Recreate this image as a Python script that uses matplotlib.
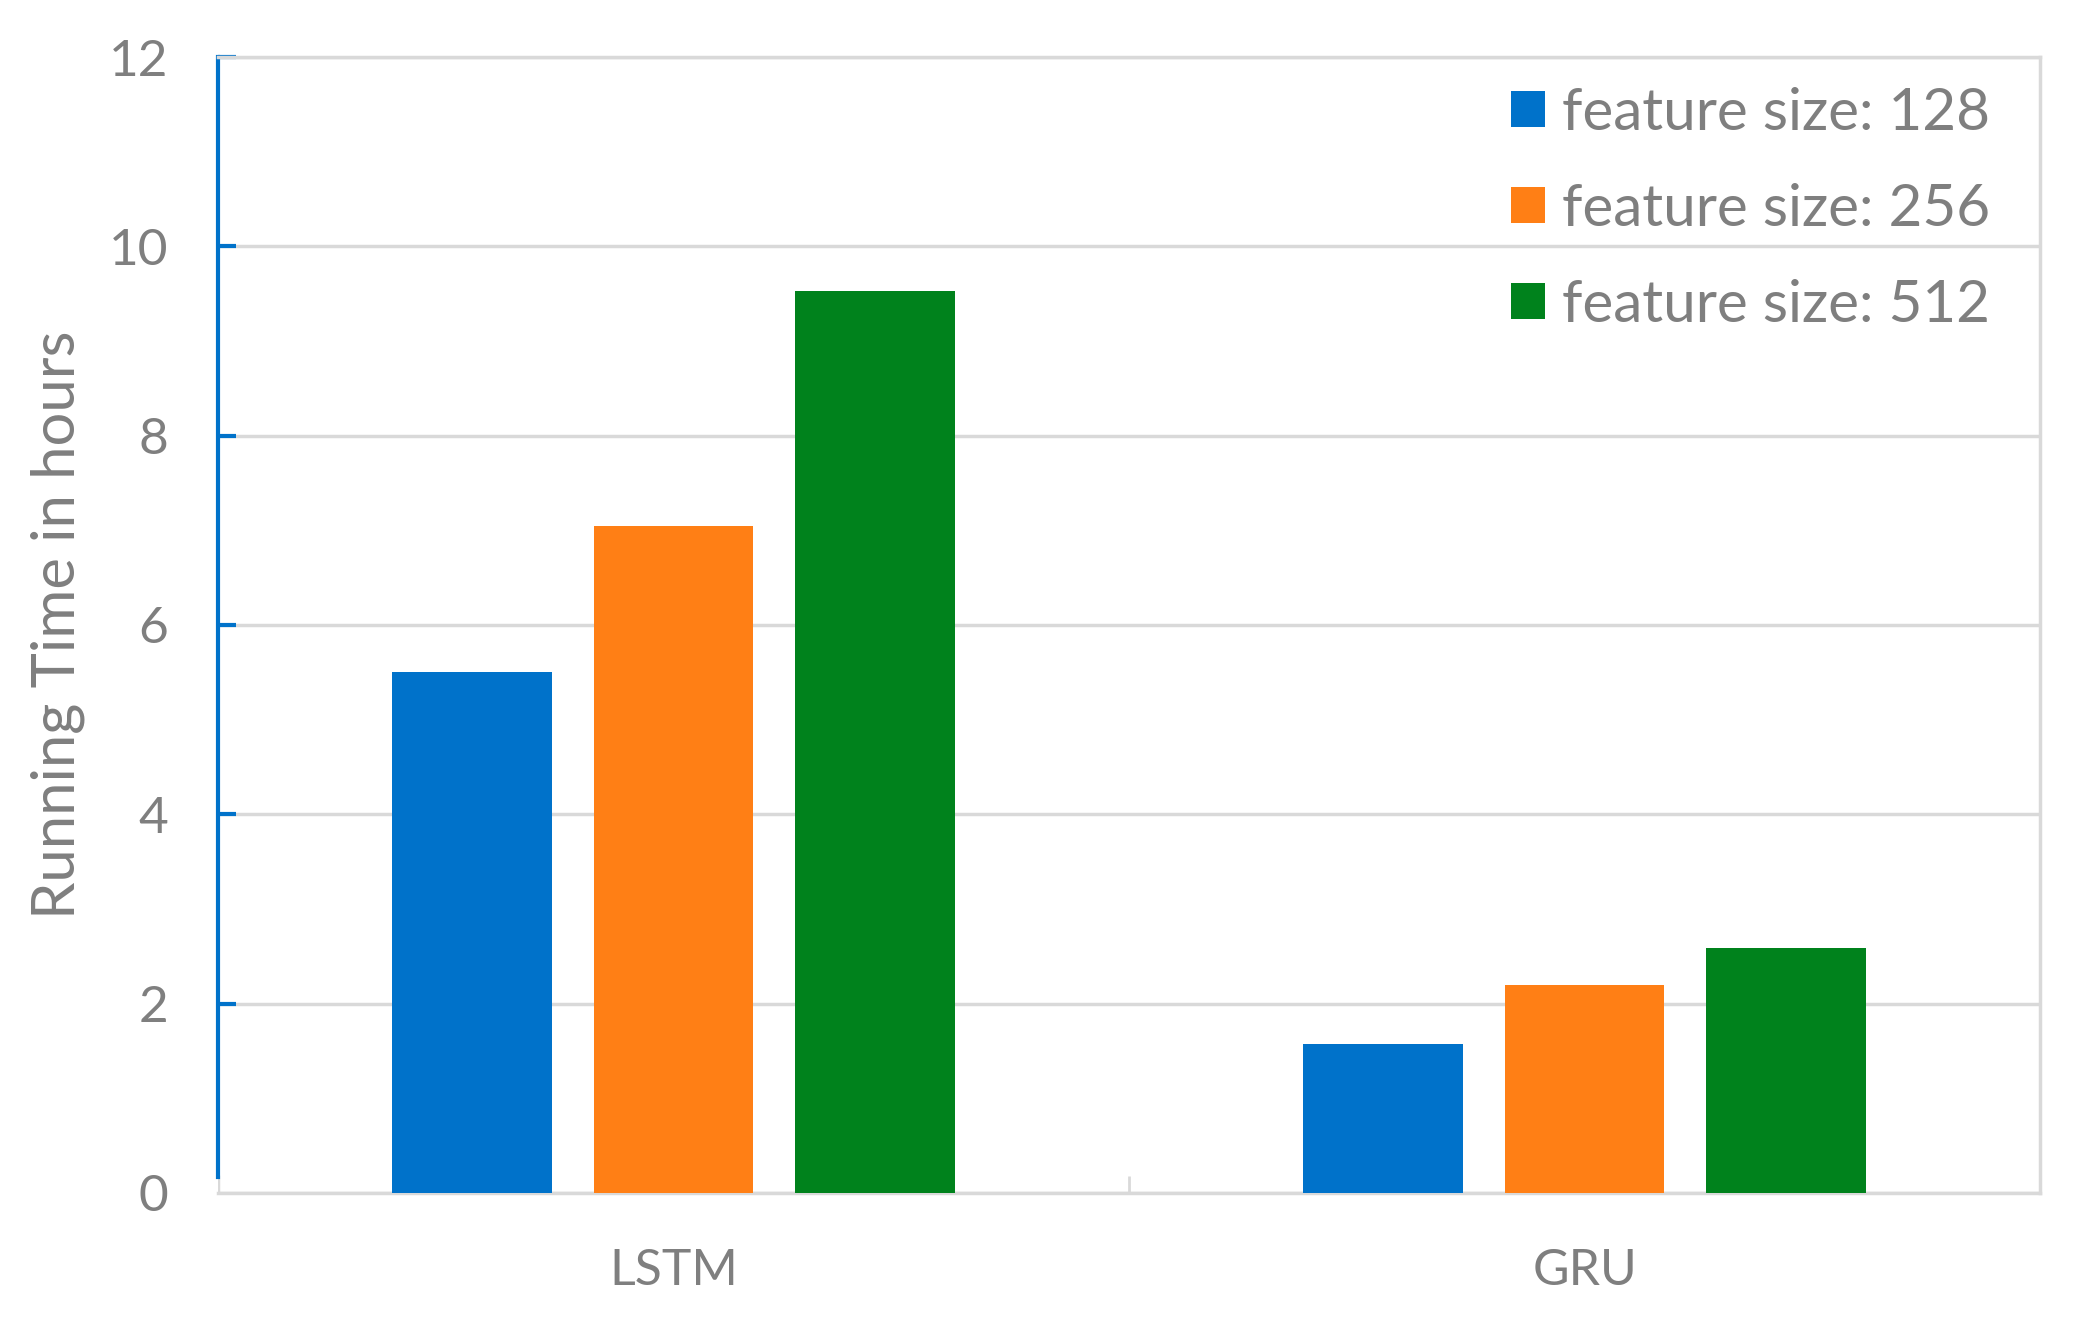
import numpy as np
import matplotlib
matplotlib.use("Agg")
import matplotlib.pyplot as plt

# data
models = ['LSTM', 'GRU']
series = ['feature size: 128', 'feature size: 256', 'feature size: 512']
time_128 = [5.50, 1.57]
time_256 = [7.05, 2.20]
time_512 = [9.53, 2.59]
yticks = [0, 2, 4, 6, 8, 10, 12]

colors = ['#0072CA', '#FF7F15', '#00821C']
gray = '#7F7F7F'
grid_gray = '#D9D9D9'

plt.rcParams['font.family'] = ['Lato', 'DejaVu Sans']

fig = plt.figure(figsize=(20.76, 13.17), dpi=100)
ax = fig.add_axes([0.105, 0.0942, 0.8777, 0.8625])

x = np.arange(len(models))
width = 0.175
offset = 0.221
for i, (vals, lab) in enumerate(zip([time_128, time_256, time_512], series)):
    ax.bar(x + (i - 1) * offset, vals, width, color=colors[i], label=lab, zorder=3)

ax.set_xlim(-0.5, 1.5)
ax.set_ylim(0, 12)
ax.set_yticks(yticks)
ax.set_xticks(x)
ax.set_xticklabels(models)
ax.set_xticks([0.5], minor=True)

# gridlines
ax.yaxis.grid(True, color=grid_gray, linewidth=2.5, zorder=0)
ax.set_axisbelow(True)

# spines
for s in ['top', 'right', 'bottom']:
    ax.spines[s].set_color(grid_gray)
    ax.spines[s].set_linewidth(2.5)
ax.spines['left'].set_color(colors[0])
ax.spines['left'].set_linewidth(3)
ax.spines['left'].set_bounds(0.17, 12)
ax.axvline(-0.5, ymin=0, ymax=0.17 / 12, color=grid_gray, linewidth=2.5, zorder=1)

ax.tick_params(axis='y', direction='in', length=13, width=3, color=colors[0],
               labelsize=37, labelcolor=gray, pad=36)
ax.yaxis.get_major_ticks()[0].tick1line.set_visible(False)
ax.tick_params(axis='x', which='major', length=0, labelsize=36, labelcolor=gray, pad=40)
ax.tick_params(axis='x', which='minor', direction='in', length=12, width=2, color=grid_gray)

ax.set_ylabel('Running Time in hours', fontsize=43, color=gray, labelpad=17)

leg = ax.legend(loc='upper right', frameon=False, fontsize=42, labelcolor=gray,
                handlelength=0.58, handleheight=0.58, handletextpad=0.3,
                labelspacing=0.74, borderaxespad=0.3, bbox_to_anchor=(0.995, 1.01))

fig.savefig('out.png', dpi=100, facecolor='white')
